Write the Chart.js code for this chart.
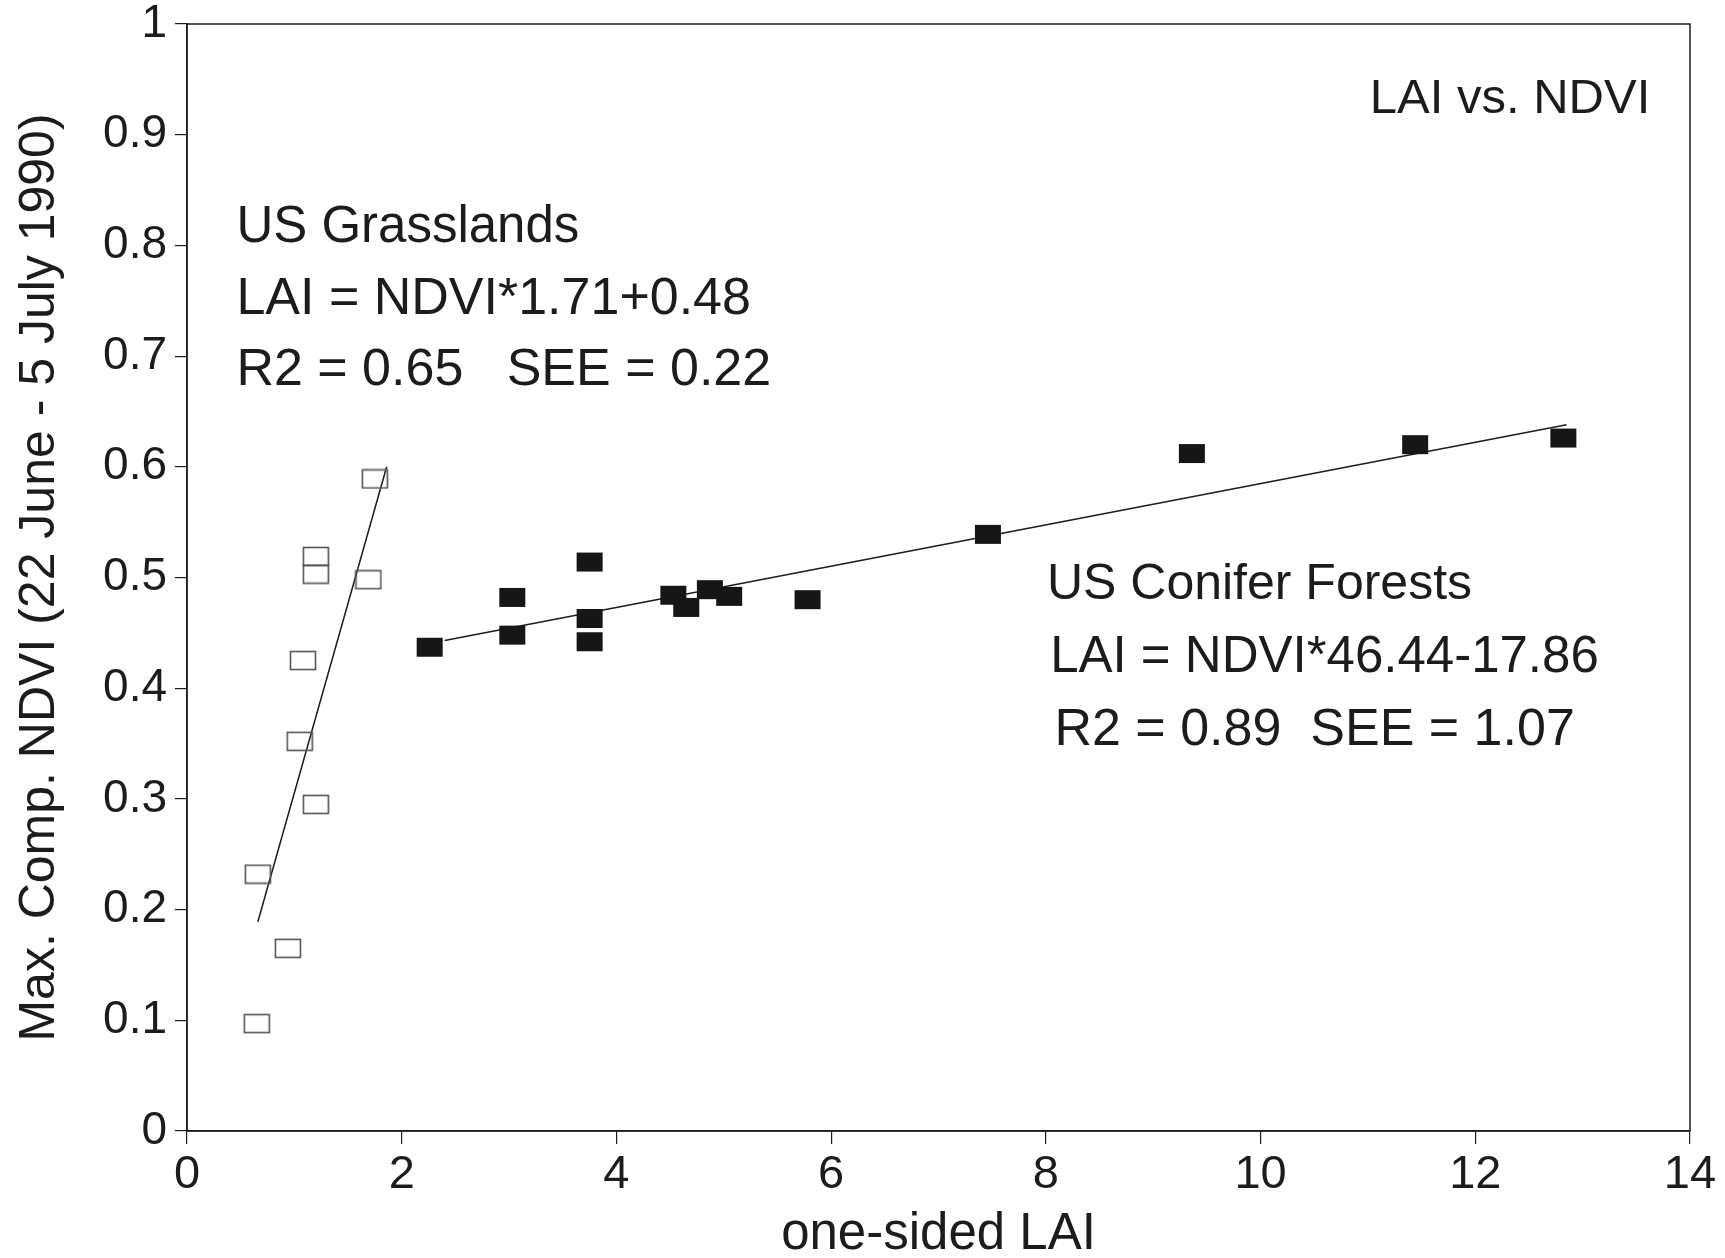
<!DOCTYPE html>
<html>
<head>
<meta charset="utf-8">
<script src="https://cdn.jsdelivr.net/npm/chart.js@4.4.0/dist/chart.umd.min.js"></script>
<style>
  body { margin: 0; background: #fff; }
  #wrap { width: 1725px; height: 1258px; }
</style>
</head>
<body>
<div id="wrap"><canvas id="laiChart" width="1725" height="1258"></canvas></div>
<script>
// US grasslands (open squares)
const grassLai = [0.65, 0.94, 0.66, 1.20, 1.05, 1.08, 1.20, 1.20, 1.69, 1.75];
const grassNdvi = [0.097, 0.165, 0.232, 0.295, 0.352, 0.425, 0.503, 0.519, 0.498, 0.589];
const grassFitLai = [0.66, 1.86];
const grassFitNdvi = [0.189, 0.600];

// US conifer forests (filled squares)
const coniferLai = [2.26, 3.03, 3.03, 3.75, 3.75, 3.75, 4.53, 4.65, 4.87, 5.05, 5.78, 7.46, 9.36, 11.44, 12.82];
const coniferNdvi = [0.437, 0.482, 0.448, 0.514, 0.463, 0.442, 0.484, 0.473, 0.489, 0.483, 0.480, 0.539, 0.612, 0.620, 0.626];
const coniferFitLai = [2.40, 12.85];
const coniferFitNdvi = [0.443, 0.638];

const xTicks = [0, 2, 4, 6, 8, 10, 12, 14];
const yTicks = [0, 0.1, 0.2, 0.3, 0.4, 0.5, 0.6, 0.7, 0.8, 0.9, 1];
const yTickLabels = ['0', '0.1', '0.2', '0.3', '0.4', '0.5', '0.6', '0.7', '0.8', '0.9', '1'];

const FONT = '"Liberation Sans", Arial, sans-serif';
const INK = '#1c1c1c';

function pts(xs, ys) {
  return xs.map((x, i) => ({ x: x, y: ys[i] }));
}

function boxMarker(filled) {
  const c = document.createElement('canvas');
  c.width = 28;
  c.height = 21;
  const g = c.getContext('2d');
  if (filled) {
    g.fillStyle = '#161616';
    g.fillRect(1, 1, 26, 19);
  } else {
    g.strokeStyle = '#555';
    g.lineWidth = 1.6;
    g.strokeRect(1.5, 1.5, 25, 18);
  }
  return c;
}

// text on the plot, anchored in data units
const notes = [
  { text: 'LAI vs. NDVI', x: 13.63, y: 0.932, align: 'right', size: 49 },
  { text: 'US Grasslands', x: 0.46, y: 0.816, align: 'left', size: 51 },
  { text: 'LAI = NDVI*1.71+0.48', x: 0.46, y: 0.751, align: 'left', size: 52 },
  { text: 'R2 = 0.65   SEE = 0.22', x: 0.46, y: 0.687, align: 'left', size: 52 },
  { text: 'US Conifer Forests', x: 8.01, y: 0.493, align: 'left', size: 50 },
  { text: 'LAI = NDVI*46.44-17.86', x: 8.04, y: 0.427, align: 'left', size: 51 },
  { text: 'R2 = 0.89  SEE = 1.07', x: 8.08, y: 0.362, align: 'left', size: 52 },
];

const framePlugin = {
  id: 'frame',
  afterDraw(chart) {
    const { ctx, chartArea, scales } = chart;
    ctx.save();
    ctx.strokeStyle = INK;
    ctx.lineWidth = 1.5;
    ctx.strokeRect(chartArea.left, chartArea.top, chartArea.right - chartArea.left, chartArea.bottom - chartArea.top);
    ctx.fillStyle = INK;
    ctx.textBaseline = 'middle';
    notes.forEach((n) => {
      ctx.font = n.size + 'px ' + FONT;
      ctx.textAlign = n.align;
      ctx.fillText(n.text, scales.x.getPixelForValue(n.x), scales.y.getPixelForValue(n.y));
    });
    ctx.restore();
  },
};

new Chart(document.getElementById('laiChart').getContext('2d'), {
  type: 'scatter',
  data: {
    datasets: [
      {
        label: 'US Grasslands',
        data: pts(grassLai, grassNdvi),
        pointStyle: boxMarker(false),
        pointRadius: 10,
      },
      {
        label: 'US Conifer Forests',
        data: pts(coniferLai, coniferNdvi),
        pointStyle: boxMarker(true),
        pointRadius: 10,
      },
      {
        label: 'grass fit',
        data: pts(grassFitLai, grassFitNdvi),
        showLine: true,
        borderColor: INK,
        borderWidth: 1.5,
        pointRadius: 0,
      },
      {
        label: 'conifer fit',
        data: pts(coniferFitLai, coniferFitNdvi),
        showLine: true,
        borderColor: INK,
        borderWidth: 1.5,
        pointRadius: 0,
      },
    ],
  },
  options: {
    responsive: false,
    devicePixelRatio: 1,
    animation: false,
    layout: { padding: { top: 24, right: 35, left: 0, bottom: 0 } },
    plugins: {
      legend: { display: false },
      tooltip: { enabled: false },
    },
    scales: {
      x: {
        type: 'linear',
        min: 0,
        max: 14,
        afterBuildTicks: (scale) => {
          scale.ticks = xTicks.map((v) => ({ value: v }));
        },
        afterFit: (scale) => {
          scale.height = 127;
          scale.paddingLeft = 0;
          scale.paddingRight = 0;
        },
        border: { display: true, color: INK, width: 1.5 },
        grid: { drawOnChartArea: false, drawTicks: true, tickLength: 13, color: INK, lineWidth: 1.2 },
        ticks: {
          color: INK,
          font: { family: FONT, size: 47 },
          padding: 3,
          maxRotation: 0,
        },
        title: {
          display: true,
          text: 'one-sided LAI',
          color: INK,
          font: { family: FONT, size: 51, lineHeight: 1 },
          padding: { top: 0, bottom: -2 },
        },
      },
      y: {
        type: 'linear',
        min: 0,
        max: 1,
        afterBuildTicks: (scale) => {
          scale.ticks = yTicks.map((v) => ({ value: v }));
        },
        afterFit: (scale) => {
          scale.width = 187;
          scale.paddingTop = 0;
          scale.paddingBottom = 0;
        },
        border: { display: true, color: INK, width: 1.5 },
        grid: { drawOnChartArea: false, drawTicks: true, tickLength: 12, color: INK, lineWidth: 1.2 },
        ticks: {
          color: INK,
          font: { family: FONT, size: 46 },
          padding: 8,
          callback: (value, index) => yTickLabels[index],
        },
        title: {
          display: true,
          text: 'Max. Comp. NDVI (22 June - 5 July 1990)',
          color: INK,
          font: { family: FONT, size: 50 },
          padding: { top: 10, bottom: 0 },
        },
      },
    },
  },
  plugins: [framePlugin],
});
</script>
</body>
</html>
